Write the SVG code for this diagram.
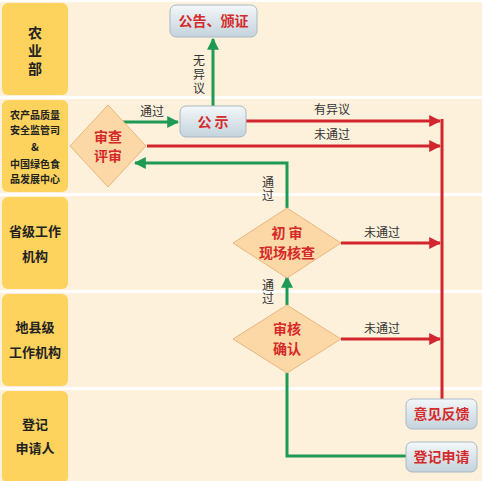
<svg xmlns="http://www.w3.org/2000/svg" width="484" height="481" viewBox="0 0 484 481">
<defs>
<linearGradient id="boxg" x1="0" y1="0" x2="0" y2="1">
<stop offset="0" stop-color="#f3f7f9"/>
<stop offset="1" stop-color="#c4d3dc"/>
</linearGradient>
<marker id="ag" viewBox="0 0 10 10" refX="9" refY="5" markerWidth="4" markerHeight="4" orient="auto" markerUnits="strokeWidth">
<path d="M0,0 L10,5 L0,10 z" fill="#1e9a55"/>
</marker>
<marker id="ar" viewBox="0 0 10 10" refX="9" refY="5" markerWidth="4" markerHeight="4" orient="auto" markerUnits="strokeWidth">
<path d="M0,0 L10,5 L0,10 z" fill="#d1262d"/>
</marker>
</defs>
<style>
.lane{fill:#fdf1dc}
.lab{fill:#fdd35d}
.lt{font-family:"Noto Sans CJK SC","Liberation Sans",sans-serif;font-weight:bold;fill:#222;text-anchor:middle}
.nt{font-family:"Noto Sans CJK SC","Liberation Sans",sans-serif;font-weight:bold;fill:#d42a2a;text-anchor:middle;font-size:14px}
.ct{font-family:"Noto Sans CJK SC","Liberation Sans",sans-serif;fill:#333;text-anchor:middle;font-size:12px}
.vt{writing-mode:vertical-rl}
.box{fill:url(#boxg);stroke:#a9b9c4;stroke-width:1}
.dia{fill:#fcd8a6;stroke:#eab67d;stroke-width:1}
.g{fill:none;stroke:#1e9a55;stroke-width:3}
.r{fill:none;stroke:#d1262d;stroke-width:3}
</style>
<rect x="0" y="0" width="484" height="481" fill="#ffffff"/>
<g id="lanes">
<rect class="lane" x="0" y="2" width="482" height="94"/>
<rect class="lane" x="0" y="99" width="482" height="94"/>
<rect class="lane" x="0" y="196" width="482" height="94"/>
<rect class="lane" x="0" y="293" width="482" height="94"/>
<rect class="lane" x="0" y="390" width="482" height="91"/>
<rect class="lab" x="2" y="3" width="66" height="92" rx="6"/>
<rect class="lab" x="2" y="100" width="66" height="92" rx="6"/>
<rect class="lab" x="2" y="197" width="66" height="92" rx="6"/>
<rect class="lab" x="2" y="294" width="66" height="92" rx="6"/>
<rect class="lab" x="2" y="391" width="66" height="92" rx="6"/>
<text class="lt vt" font-size="14" letter-spacing="4" x="35" y="53">农业部</text>
<text class="lt" font-size="10" x="35" y="119">农产品质量</text>
<text class="lt" font-size="10" x="35" y="134">安全监管司</text>
<text class="lt" font-size="10.5" x="35" y="151">&amp;</text>
<text class="lt" font-size="10" x="35" y="168">中国绿色食</text>
<text class="lt" font-size="10" x="35" y="183">品发展中心</text>
<text class="lt" font-size="13" x="35" y="236">省级工作</text>
<text class="lt" font-size="13" x="35" y="261">机构</text>
<text class="lt" font-size="13" x="35" y="332">地县级</text>
<text class="lt" font-size="13" x="35" y="357">工作机构</text>
<text class="lt" font-size="13" x="35" y="429">登记</text>
<text class="lt" font-size="13" x="35" y="453">申请人</text>
</g>
<g id="connectors">
<path class="g" d="M123,122 L178,122" marker-end="url(#ag)"/>
<path class="g" d="M213,106 L213,39" marker-end="url(#ag)"/>
<path class="r" d="M246,121 L440,121" marker-end="url(#ar)"/>
<path class="r" d="M147,146 L440,146" marker-end="url(#ar)"/>
<path class="g" d="M287,208 L287,163 L135,163" marker-end="url(#ag)"/>
<path class="r" d="M341,243 L440,243" marker-end="url(#ar)"/>
<path class="g" d="M287,305 L287,277" marker-end="url(#ag)"/>
<path class="r" d="M341,339 L440,339" marker-end="url(#ar)"/>
<path class="r" d="M442,119 L442,399"/>
<path class="g" d="M406,456 L287,456 L287,373"/>
<text class="ct" x="152" y="116">通过</text>
<text class="ct vt" letter-spacing="2" x="199" y="75">无异议</text>
<text class="ct" x="332" y="114">有异议</text>
<text class="ct" x="332" y="139">未通过</text>
<text class="ct vt" letter-spacing="1" x="268" y="189">通过</text>
<text class="ct" x="382" y="237">未通过</text>
<text class="ct vt" letter-spacing="1" x="268" y="292">通过</text>
<text class="ct" x="382" y="333">未通过</text>
</g>
<g id="n-gonggao">
<rect class="box" x="170" y="5" width="87" height="32" rx="6"/>
<text class="nt" x="213.5" y="26">公告、颁证</text>
</g>
<g id="n-gongshi">
<rect class="box" x="180" y="106" width="66" height="31" rx="6"/>
<text class="nt" x="213" y="126.5">公 示</text>
</g>
<g id="n-shencha">
<polygon class="dia" points="108,105 146,146 108,187 70,146"/>
<text class="nt" x="108" y="142">审查</text>
<text class="nt" x="108" y="161">评审</text>
</g>
<g id="n-chushen">
<polygon class="dia" points="287,208 341,243 287,278 233,243"/>
<text class="nt" x="287" y="238">初 审</text>
<text class="nt" x="287" y="258">现场核查</text>
</g>
<g id="n-shenhe">
<polygon class="dia" points="287,305 341,339 287,373 233,339"/>
<text class="nt" x="287" y="334">审核</text>
<text class="nt" x="287" y="354">确认</text>
</g>
<g id="n-yijian">
<rect class="box" x="406" y="399" width="71" height="30" rx="6"/>
<text class="nt" x="441.5" y="419">意见反馈</text>
</g>
<g id="n-dengji">
<rect class="box" x="406" y="442" width="71" height="30" rx="6"/>
<text class="nt" x="441.5" y="462">登记申请</text>
</g>
</svg>
